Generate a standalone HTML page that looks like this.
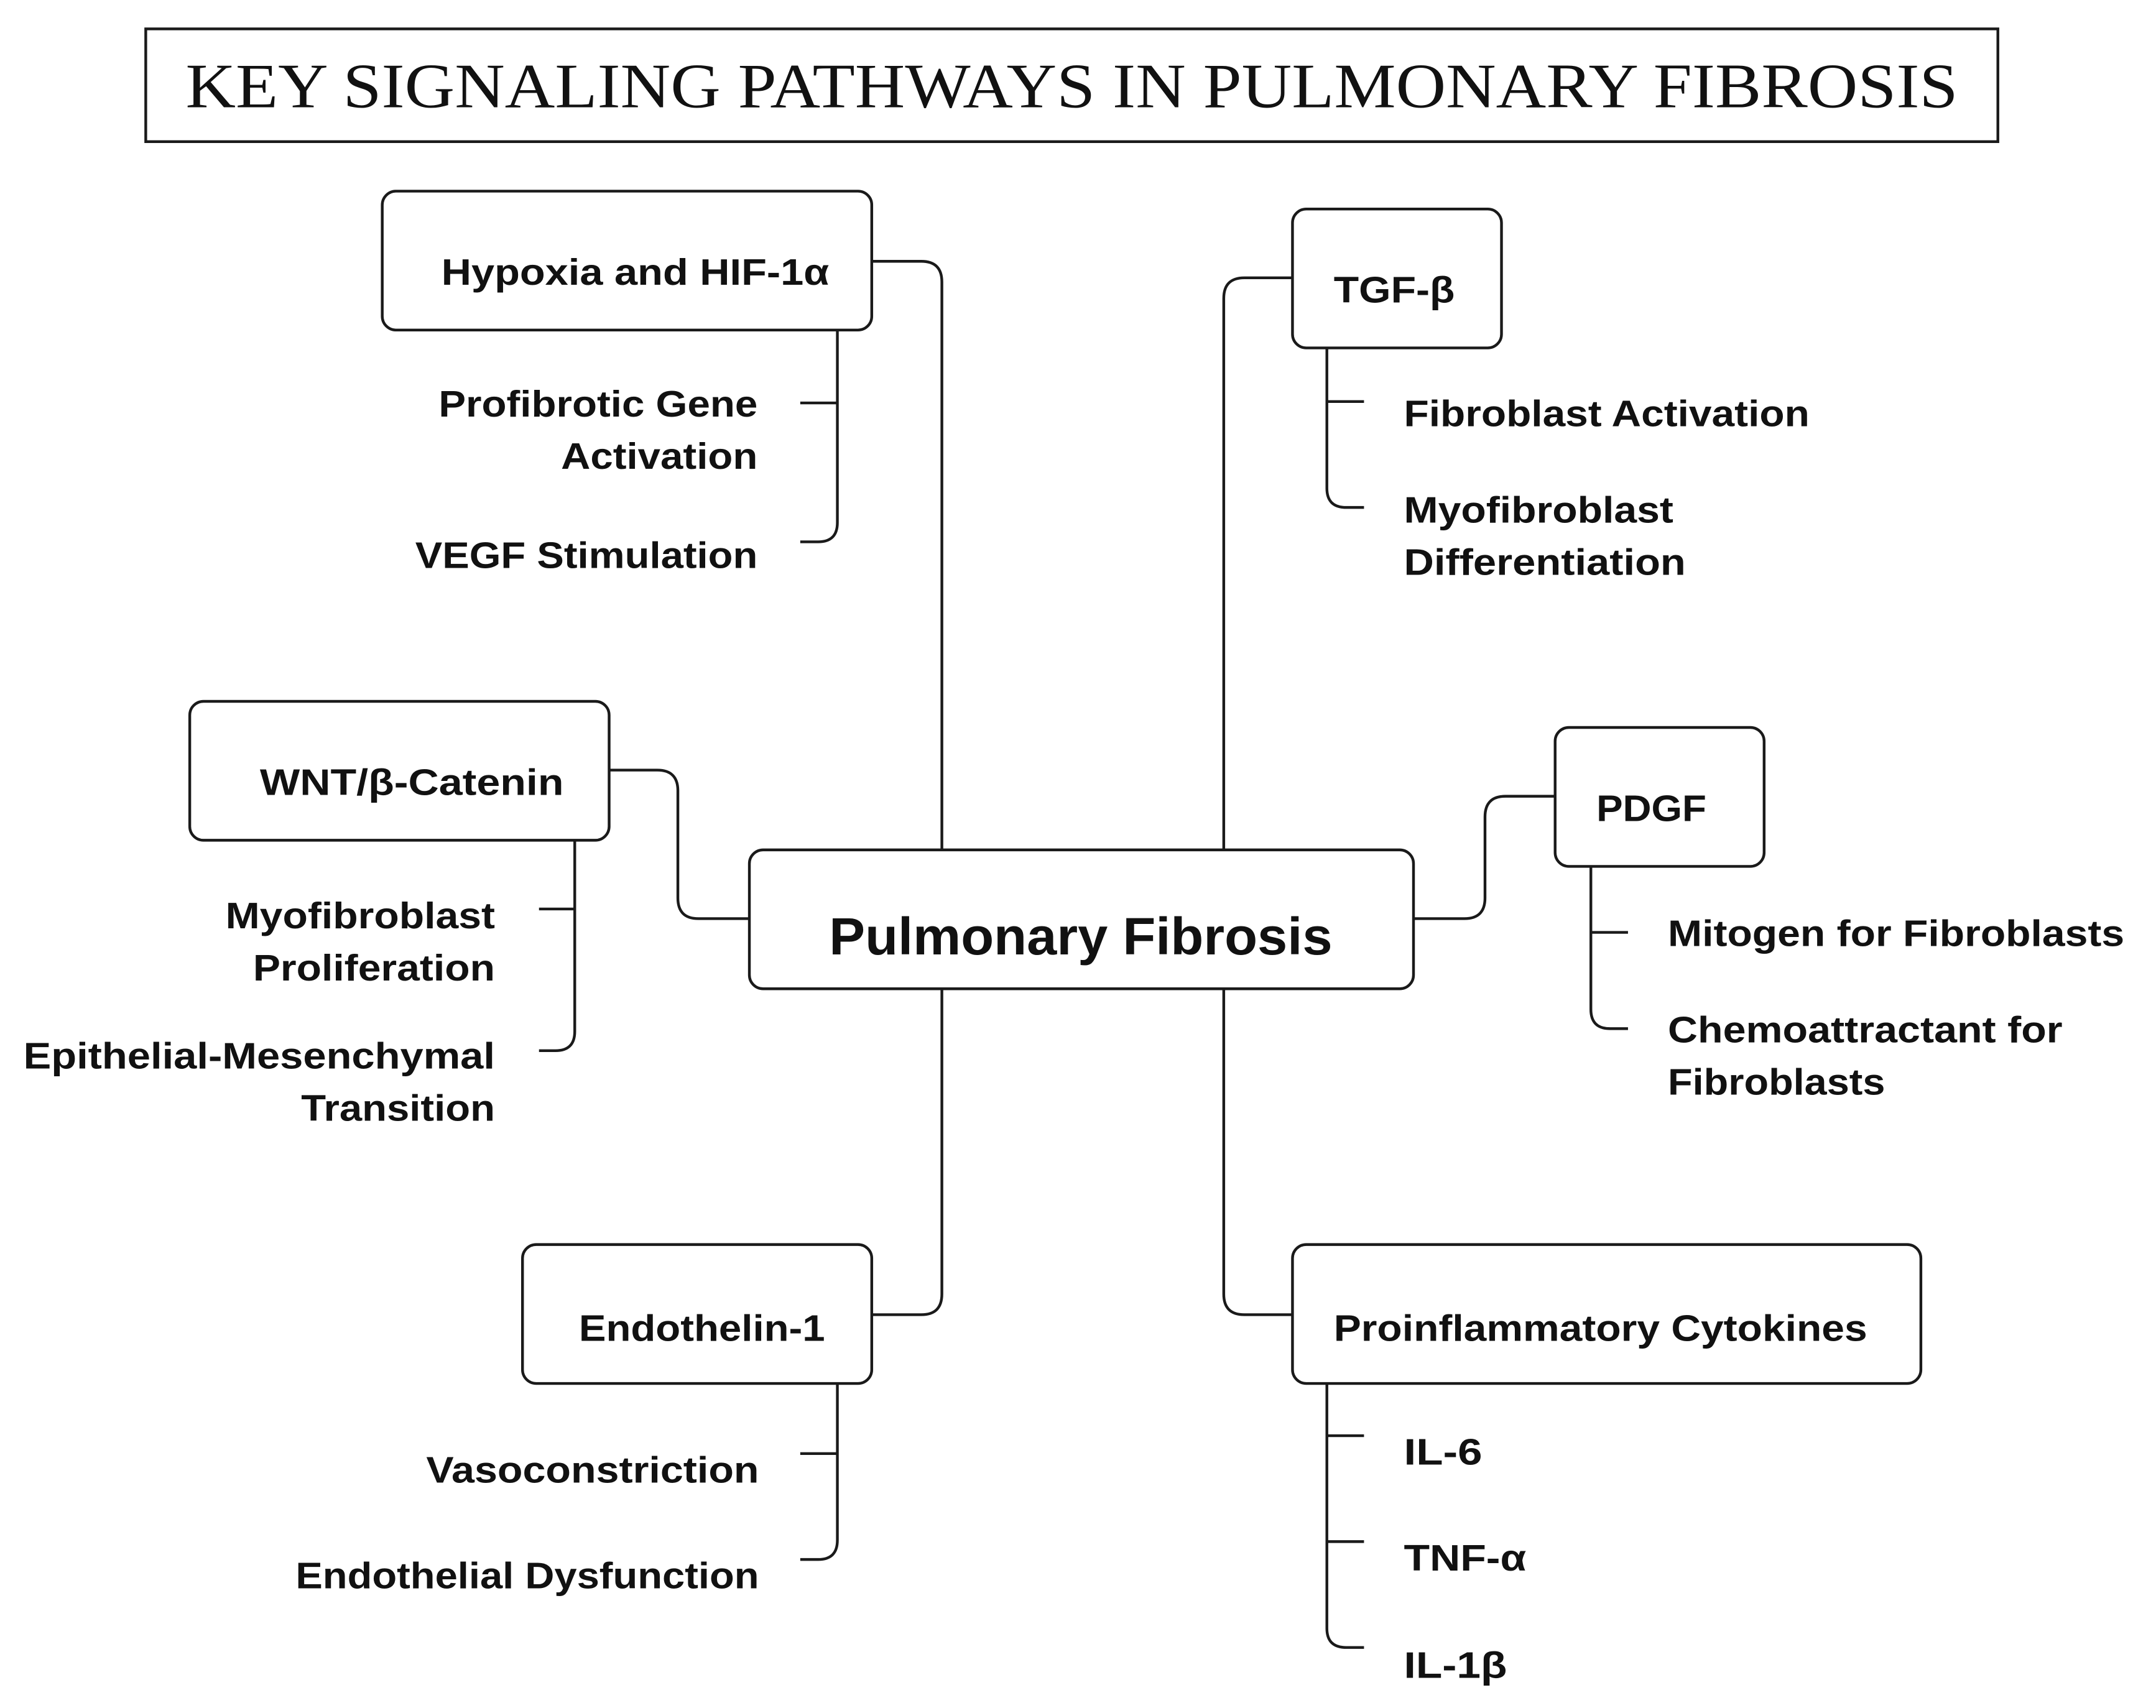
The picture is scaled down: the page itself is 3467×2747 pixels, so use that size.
<!DOCTYPE html>
<html><head><meta charset="utf-8"><style>
html,body{margin:0;padding:0;background:#fff;}
svg{display:block;}
.b{font-family:"Liberation Sans",sans-serif;font-weight:bold;font-size:27px;fill:#111;}
</style></head><body>
<svg width="3467" height="2747" viewBox="0 0 1568 1242" preserveAspectRatio="none" xmlns="http://www.w3.org/2000/svg">
<rect width="1568" height="1242" fill="#fff"/>
<g fill="none" stroke="#1a1a1a" stroke-width="2">
<rect x="106" y="21" width="1347" height="82"/>
<rect x="545" y="618" width="483" height="101" rx="10"/>
<rect x="278" y="139" width="356" height="101" rx="10"/>
<rect x="940" y="152" width="152" height="101" rx="10"/>
<rect x="138" y="510" width="305" height="101" rx="10"/>
<rect x="1131" y="529" width="152" height="101" rx="10"/>
<rect x="380" y="905" width="254" height="101" rx="10"/>
<rect x="940" y="905" width="457" height="101" rx="10"/>
<path d="M634 190 H670 Q685 190 685 205 V618"/>
<path d="M940 202 H905 Q890 202 890 217 V618"/>
<path d="M443 560 H478 Q493 560 493 575 V653 Q493 668 508 668 H545"/>
<path d="M1028 668 H1065 Q1080 668 1080 653 V594 Q1080 579 1095 579 H1131"/>
<path d="M634 956 H670 Q685 956 685 941 V719"/>
<path d="M940 956 H905 Q890 956 890 941 V719"/>
<path d="M609 240 V380 Q609 394 595 394 H582 M582 293 H609"/>
<path d="M965 253 V355 Q965 369 979 369 H992 M965 292 H992"/>
<path d="M418 611 V750 Q418 764 404 764 H392 M392 661 H418"/>
<path d="M1157 630 V734 Q1157 748 1171 748 H1184 M1157 678 H1184"/>
<path d="M609 1006 V1120 Q609 1134 595 1134 H582 M582 1057 H609"/>
<path d="M965 1006 V1184 Q965 1198 979 1198 H992 M965 1044 H992 M965 1121 H992"/>
</g>
<text x="135" y="78" font-family="Liberation Serif,serif" font-size="46" fill="#111" textLength="1289" lengthAdjust="spacingAndGlyphs">KEY SIGNALING PATHWAYS IN PULMONARY FIBROSIS</text>
<text class="b" x="603" y="694" style="font-size:38px" textLength="366" lengthAdjust="spacingAndGlyphs">Pulmonary Fibrosis</text>
<g class="b">
<text x="321" y="207" textLength="282" lengthAdjust="spacingAndGlyphs">Hypoxia and HIF-1α</text>
<text x="319" y="303" textLength="232" lengthAdjust="spacingAndGlyphs">Profibrotic Gene</text>
<text x="408" y="341" textLength="143" lengthAdjust="spacingAndGlyphs">Activation</text>
<text x="302" y="413" textLength="249" lengthAdjust="spacingAndGlyphs">VEGF Stimulation</text>
<text x="970" y="220" textLength="88" lengthAdjust="spacingAndGlyphs">TGF-β</text>
<text x="1021" y="310" textLength="295" lengthAdjust="spacingAndGlyphs">Fibroblast Activation</text>
<text x="1021" y="380" textLength="196" lengthAdjust="spacingAndGlyphs">Myofibroblast</text>
<text x="1021" y="418" textLength="205" lengthAdjust="spacingAndGlyphs">Differentiation</text>
<text x="189" y="578" textLength="221" lengthAdjust="spacingAndGlyphs">WNT/β-Catenin</text>
<text x="164" y="675" textLength="196" lengthAdjust="spacingAndGlyphs">Myofibroblast</text>
<text x="184" y="713" textLength="176" lengthAdjust="spacingAndGlyphs">Proliferation</text>
<text x="17" y="777" textLength="343" lengthAdjust="spacingAndGlyphs">Epithelial-Mesenchymal</text>
<text x="219" y="815" textLength="141" lengthAdjust="spacingAndGlyphs">Transition</text>
<text x="1161" y="597" textLength="80" lengthAdjust="spacingAndGlyphs">PDGF</text>
<text x="1213" y="688" textLength="332" lengthAdjust="spacingAndGlyphs">Mitogen for Fibroblasts</text>
<text x="1213" y="758" textLength="287" lengthAdjust="spacingAndGlyphs">Chemoattractant for</text>
<text x="1213" y="796" textLength="158" lengthAdjust="spacingAndGlyphs">Fibroblasts</text>
<text x="421" y="975" textLength="179" lengthAdjust="spacingAndGlyphs">Endothelin-1</text>
<text x="310" y="1078" textLength="242" lengthAdjust="spacingAndGlyphs">Vasoconstriction</text>
<text x="215" y="1155" textLength="337" lengthAdjust="spacingAndGlyphs">Endothelial Dysfunction</text>
<text x="970" y="975" textLength="388" lengthAdjust="spacingAndGlyphs">Proinflammatory Cytokines</text>
<text x="1021" y="1065" textLength="57" lengthAdjust="spacingAndGlyphs">IL-6</text>
<text x="1021" y="1142" textLength="89" lengthAdjust="spacingAndGlyphs">TNF-α</text>
<text x="1021" y="1220" textLength="75" lengthAdjust="spacingAndGlyphs">IL-1β</text>
</g>
</svg>
</body></html>
